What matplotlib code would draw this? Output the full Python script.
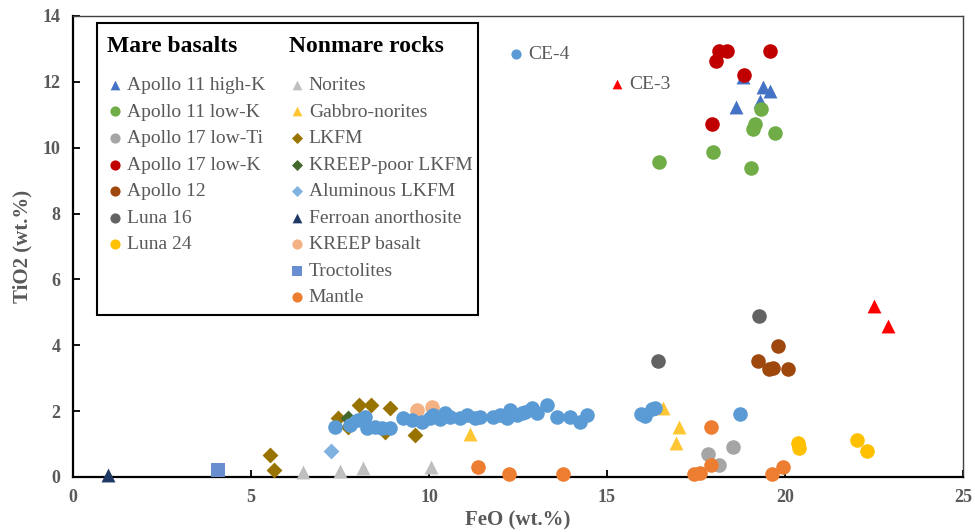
import matplotlib.pyplot as plt
from matplotlib.patches import Rectangle

plt.rcParams['font.family'] = ['Liberation Serif', 'DejaVu Serif']

# FeO (x) and TiO2 (y), wt.%
# mare basalts
a11_high_k_feo = [18.82, 19.38, 19.58, 18.62, 19.30]
a11_high_k_tio2 = [12.15, 11.85, 11.73, 11.24, 11.42]
a11_low_k_feo = [19.33, 19.16, 19.10, 19.72, 17.98, 16.46, 19.04]
a11_low_k_tio2 = [11.18, 10.73, 10.58, 10.45, 9.88, 9.58, 9.39]
a17_low_ti_feo = [17.83, 18.54, 18.15]
a17_low_ti_tio2 = [0.70, 0.91, 0.36]
a17_low_k_feo = [18.15, 18.37, 18.06, 19.58, 18.85, 17.95]
a17_low_k_tio2 = [12.95, 12.95, 12.64, 12.94, 12.21, 10.73]
a12_feo = [19.80, 19.24, 19.55, 19.66, 20.08]
a12_tio2 = [3.97, 3.52, 3.27, 3.30, 3.27]
luna16_feo = [19.27, 16.43]
luna16_tio2 = [4.88, 3.52]
luna24_feo = [20.37, 20.39, 22.02, 22.30]
luna24_tio2 = [1.03, 0.88, 1.12, 0.79]

# nonmare rocks
norites_feo = [6.46, 7.50, 8.15, 10.06]
norites_tio2 = [0.15, 0.18, 0.28, 0.30]
gabbro_feo = [11.15, 16.57, 17.02, 16.94]
gabbro_tio2 = [1.30, 2.10, 1.52, 1.03]
lkfm_feo = [8.03, 8.37, 8.90, 7.45, 7.73, 8.76, 9.60, 5.53, 5.65]
lkfm_tio2 = [2.18, 2.18, 2.09, 1.80, 1.52, 1.36, 1.27, 0.67, 0.21]
kreep_poor_feo = [7.72]
kreep_poor_tio2 = [1.80]
al_lkfm_feo = [7.25, 7.86]
al_lkfm_tio2 = [0.79, 1.66]
ferroan_feo = [0.98]
ferroan_tio2 = [0.05]
kreep_basalt_feo = [9.66, 10.08]
kreep_basalt_tio2 = [2.03, 2.13]
troct_feo = [4.07]
troct_tio2 = [0.20]
mantle_feo = [11.38, 12.25, 13.76, 17.92, 17.92, 17.45, 17.61, 19.63, 19.94]
mantle_tio2 = [0.30, 0.10, 0.10, 1.51, 0.36, 0.10, 0.12, 0.10, 0.31]

# Chang'e landing sites
ce4_feo = [7.36, 7.78, 8.00, 8.20, 8.26, 8.48, 8.68, 8.90, 9.27, 9.52, 9.80,
           10.03, 10.10, 10.30, 10.45, 10.60, 10.87, 11.07, 11.30, 11.43, 11.80,
           12.00, 12.19, 12.28, 12.47, 12.61, 12.70, 12.90, 13.03, 13.31, 13.60,
           13.96, 14.24, 14.44, 15.96, 16.07, 16.26, 16.35, 18.74]
ce4_tio2 = [1.52, 1.58, 1.73, 1.82, 1.48, 1.52, 1.48, 1.48, 1.79, 1.73, 1.67,
            1.79, 1.88, 1.75, 1.94, 1.82, 1.79, 1.88, 1.79, 1.82, 1.82,
            1.88, 1.79, 2.03, 1.88, 1.94, 1.97, 2.09, 1.94, 2.18, 1.82,
            1.82, 1.67, 1.88, 1.91, 1.85, 2.06, 2.09, 1.91]
ce3_feo = [22.50, 22.89]
ce3_tio2 = [5.18, 4.60]

mare = [
    ('Apollo 11 high-K', a11_high_k_feo, a11_high_k_tio2, '^', '#4472C4'),
    ('Apollo 11 low-K', a11_low_k_feo, a11_low_k_tio2, 'o', '#70AD47'),
    ('Apollo 17 low-Ti', a17_low_ti_feo, a17_low_ti_tio2, 'o', '#A5A5A5'),
    ('Apollo 17 low-K', a17_low_k_feo, a17_low_k_tio2, 'o', '#C00000'),
    ('Apollo 12', a12_feo, a12_tio2, 'o', '#9E480E'),
    ('Luna 16', luna16_feo, luna16_tio2, 'o', '#636363'),
    ('Luna 24', luna24_feo, luna24_tio2, 'o', '#FFC000'),
]
nonmare = [
    ('Norites', norites_feo, norites_tio2, '^', '#BFBFBF'),
    ('Gabbro-norites', gabbro_feo, gabbro_tio2, '^', '#FFC633'),
    ('LKFM', lkfm_feo, lkfm_tio2, 'D', '#997300'),
    ('KREEP-poor LKFM', kreep_poor_feo, kreep_poor_tio2, 'D', '#43682B'),
    ('Aluminous LKFM', al_lkfm_feo, al_lkfm_tio2, 'D', '#7FB2E0'),
    ('Ferroan anorthosite', ferroan_feo, ferroan_tio2, '^', '#203864'),
    ('KREEP basalt', kreep_basalt_feo, kreep_basalt_tio2, 'o', '#F4B183'),
    ('Troctolites', troct_feo, troct_tio2, 's', '#698ED0'),
    ('Mantle', mantle_feo, mantle_tio2, 'o', '#ED7D31'),
]
sizes = {'o': 110, '^': 100, 'D': 65, 's': 90}

fig = plt.figure(figsize=(9.75, 5.32), dpi=100)
ax = fig.add_axes([0.0749, 0.1034, 0.9128, 0.8666])

def draw(groups):
    hs = []
    for name, xs, ys, m, c in groups:
        hs.append(ax.scatter(xs, ys, s=sizes[m], marker=m, color=c,
                             linewidths=0, label=name, zorder=3, clip_on=False))
    return hs

h_mare = draw(mare)
h_non = draw(nonmare)
h_ce4 = ax.scatter(ce4_feo, ce4_tio2, s=110, marker='o', color='#5B9BD5',
                   linewidths=0, label='CE-4', zorder=3)
h_ce3 = ax.scatter(ce3_feo, ce3_tio2, s=100, marker='^', color='#FF0000',
                   linewidths=0, label='CE-3', zorder=3)

ax.set_xlim(0, 25)
ax.set_ylim(0, 14)
ax.set_xticks(range(0, 26, 5))
ax.set_yticks(range(0, 15, 2))
ax.tick_params(direction='in', length=5, width=1.3, labelsize=13,
               labelcolor='#595959', pad=9)
for lab in ax.get_xticklabels() + ax.get_yticklabels():
    lab.set_fontweight('bold')
for side in ['left', 'bottom']:
    ax.spines[side].set_linewidth(1.6)
    ax.spines[side].set_color('black')
for side in ['top', 'right']:
    ax.spines[side].set_linewidth(1.0)
    ax.spines[side].set_color('#404040')

ax.set_xlabel('FeO (wt.%)', fontsize=15, fontweight='bold', color='#595959',
              labelpad=3)
ax.set_ylabel('TiO2 (wt.%)', fontsize=15, fontweight='bold', color='#595959',
              labelpad=7)

# framed legend box with two columns
ax.add_patch(Rectangle((0.027, 0.351), 0.428, 0.634, transform=ax.transAxes,
                       fill=False, edgecolor='black', linewidth=1.5, zorder=5))
ax.text(0.038, 0.933, 'Mare basalts', transform=ax.transAxes, fontsize=17,
        fontweight='bold', va='center', ha='left', zorder=6)
ax.text(0.2427, 0.933, 'Nonmare rocks', transform=ax.transAxes, fontsize=17,
        fontweight='bold', va='center', ha='left', zorder=6)

leg_kw = dict(frameon=False, fontsize=14, labelcolor='#595959', markerscale=0.7,
              handlelength=0.8, handletextpad=0.22, borderpad=0, borderaxespad=0,
              labelspacing=0.46, loc='upper left')
leg1 = ax.legend(handles=h_mare, bbox_to_anchor=(0.038, 0.869), **leg_kw)
ax.add_artist(leg1)
leg2 = ax.legend(handles=h_non, bbox_to_anchor=(0.2427, 0.869), **leg_kw)
ax.add_artist(leg2)

leg3 = ax.legend(handles=[h_ce4], bbox_to_anchor=(0.489, 0.936), **leg_kw)
ax.add_artist(leg3)
ax.legend(handles=[h_ce3], bbox_to_anchor=(0.603, 0.871), **leg_kw)

fig.savefig('out.png', dpi=100)
